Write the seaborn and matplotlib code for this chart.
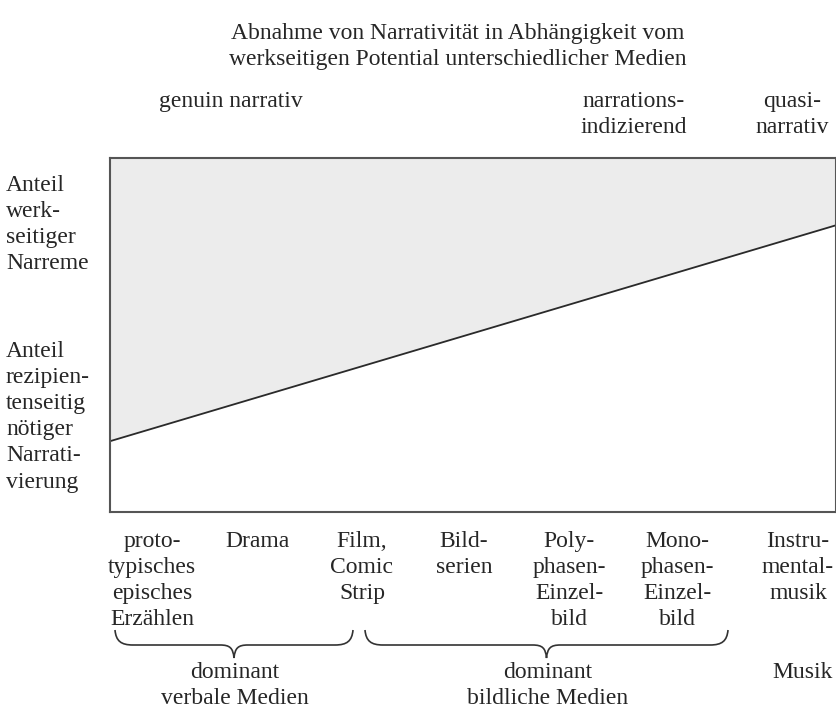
import matplotlib
matplotlib.use("Agg")
import matplotlib.pyplot as plt
from matplotlib.path import Path
from matplotlib.patches import PathPatch
import seaborn as sns

# -----------------------------------
# data
# -----------------------------------
title = "Abnahme von Narrativität in Abhängigkeit vom\nwerkseitigen Potential unterschiedlicher Medien"
x_ends = [0.0, 1.0]
y_ends = [0.2, 0.81]

categories = [
    "proto-\ntypisches\nepisches\nErzählen",
    "Drama",
    "Film,\nComic\nStrip",
    "Bild-\nserien",
    "Poly-\nphasen-\nEinzel-\nbild",
    "Mono-\nphasen-\nEinzel-\nbild",
    "Instru-\nmental-\nmusik",
]
top_labels = ["genuin narrativ", "narrations-\nindizierend", "quasi-\nnarrativ"]
left_labels = ["Anteil\nwerk-\nseitiger\nNarreme",
               "Anteil\nrezipien-\ntenseitig\nnötiger\nNarrati-\nvierung"]
group_labels = ["dominant\nverbale Medien", "dominant\nbildliche Medien", "Musik"]

# layout (pixels in the 837x714 figure)
W, H = 837, 714
cat_x = [152, 257, 362, 464, 569, 677, 798]
top_x = [231, 634, 792]
group_x = [235, 548, 803]
braces = [(115, 353), (365, 728)]

sns.set_theme(style="white")
plt.rcParams["font.family"] = ["Liberation Serif", "DejaVu Serif"]
FS = 17
LS = 1.32
INK = "#262626"


def fx(x):
    return x / W


def fy(y):
    return 1 - y / H


fig = plt.figure(figsize=(W / 100, H / 100), dpi=100)
ax = fig.add_axes([fx(110), fy(512), fx(836) - fx(110), fy(158) - fy(512)])

sns.lineplot(x=x_ends, y=y_ends, ax=ax, color="#2a2a2a", linewidth=1.3)
ax.fill_between(x_ends, y_ends, [1, 1], color="#ececec", linewidth=0)
ax.set_xlim(0, 1)
ax.set_ylim(0, 1)
ax.set_xticks([])
ax.set_yticks([])
for s in ax.spines.values():
    s.set_color("#555555")
    s.set_linewidth(1.5)


def label(x, y, s, ha="center"):
    fig.text(fx(x), fy(y), s, ha=ha, va="top", fontsize=FS,
             linespacing=LS, color=INK)


label(458, 23, title)
for lab, x in zip(top_labels, top_x):
    label(x, 91, lab)
label(6, 175, left_labels[0], ha="left")
label(6, 341, left_labels[1], ha="left")
for lab, x in zip(categories, cat_x):
    label(x, 531, lab)
for lab, x in zip(group_labels, group_x):
    label(x, 662, lab)


def brace(x0, x1, ytop, ymid, ytip):
    xm = (x0 + x1) / 2
    pts = [
        (x0, ytop),
        (x0 + 1, ymid - 4), (x0 + 6, ymid), (x0 + 18, ymid),
        (xm - 14, ymid),
        (xm - 4, ymid), (xm - 1, ymid + 3), (xm, ytip),
        (xm + 1, ymid + 3), (xm + 4, ymid), (xm + 14, ymid),
        (x1 - 18, ymid),
        (x1 - 6, ymid), (x1 - 1, ymid - 4), (x1, ytop),
    ]
    codes = [Path.MOVETO,
             Path.CURVE4, Path.CURVE4, Path.CURVE4,
             Path.LINETO,
             Path.CURVE4, Path.CURVE4, Path.CURVE4,
             Path.CURVE4, Path.CURVE4, Path.CURVE4,
             Path.LINETO,
             Path.CURVE4, Path.CURVE4, Path.CURVE4]
    verts = [(fx(a), fy(b)) for a, b in pts]
    return PathPatch(Path(verts, codes), transform=fig.transFigure,
                     fill=False, edgecolor="#333333", linewidth=1.2)


for x0, x1 in braces:
    fig.patches.append(brace(x0, x1, 630, 645, 658))

fig.savefig("out.png", dpi=100, facecolor="white")
